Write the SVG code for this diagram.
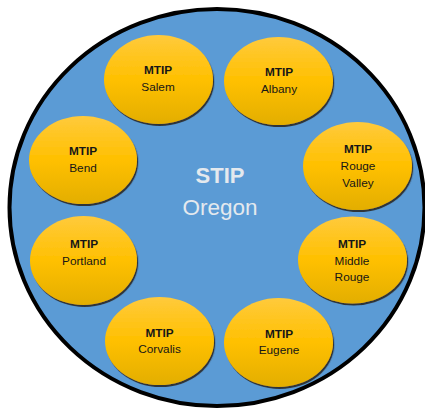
<svg xmlns="http://www.w3.org/2000/svg" width="425" height="409" viewBox="0 0 425 409">
<defs>
<linearGradient id="gold" x1="0" y1="0" x2="0" y2="1">
<stop offset="0" stop-color="#FFCA3C"/>
<stop offset="0.5" stop-color="#FFC000"/>
<stop offset="1" stop-color="#E3AE00"/>
</linearGradient>
<filter id="sh" x="-10%" y="-10%" width="125%" height="130%">
<feDropShadow dx="1.2" dy="2" stdDeviation="0.7" flood-color="#2a2a2a" flood-opacity="0.9"/>
</filter>
</defs>
<style>
.node ellipse{fill:url(#gold);filter:url(#sh)}
.node text{font-family:"Liberation Sans",Arial,sans-serif;font-size:11.8px;fill:#161616;text-anchor:middle}
.node text.b{font-weight:bold}
.title{font-family:"Liberation Sans",Arial,sans-serif;text-anchor:middle;fill:#E4E9EE}
</style>
<g id="stip">
<ellipse cx="217" cy="207.5" rx="207.5" ry="198.5" fill="#5B9BD5" stroke="#000" stroke-width="4"/>
<text class="title" x="220" y="183" font-size="22" font-weight="bold">STIP</text>
<text class="title" x="220" y="215" font-size="22.5">Oregon</text>
</g>
<g id="connectors"/>
<g id="salem" class="node"><ellipse cx="158.5" cy="79.5" rx="54.5" ry="44.5"/><text class="b" x="158" y="73.5">MTIP</text><text x="158" y="90.5">Salem</text></g>
<g id="albany" class="node"><ellipse cx="278.5" cy="81" rx="54.5" ry="44"/><text class="b" x="279" y="75.5">MTIP</text><text x="279" y="92.5">Albany</text></g>
<g id="bend" class="node"><ellipse cx="83" cy="160" rx="54" ry="44"/><text class="b" x="83" y="155">MTIP</text><text x="83" y="172">Bend</text></g>
<g id="rouge-valley" class="node"><ellipse cx="357.5" cy="166" rx="54.5" ry="44"/><text class="b" x="358" y="153">MTIP</text><text x="358" y="170">Rouge</text><text x="358" y="186.5">Valley</text></g>
<g id="portland" class="node"><ellipse cx="83.5" cy="260.5" rx="53.5" ry="44.5"/><text class="b" x="84" y="248">MTIP</text><text x="84" y="264.5">Portland</text></g>
<g id="middle-rouge" class="node"><ellipse cx="352.5" cy="260" rx="54.5" ry="43.5"/><text class="b" x="352" y="248">MTIP</text><text x="352" y="264.5">Middle</text><text x="352" y="281">Rouge</text></g>
<g id="corvalis" class="node"><ellipse cx="159.5" cy="341" rx="54.5" ry="44"/><text class="b" x="159.5" y="336.5">MTIP</text><text x="159.5" y="353">Corvalis</text></g>
<g id="eugene" class="node"><ellipse cx="278.5" cy="342.5" rx="54.5" ry="44.5"/><text class="b" x="279" y="337.5">MTIP</text><text x="279" y="354">Eugene</text></g>
</svg>
